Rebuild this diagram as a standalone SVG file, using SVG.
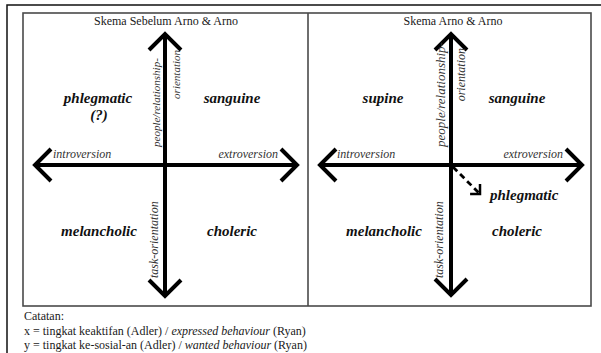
<svg xmlns="http://www.w3.org/2000/svg" width="601" height="353" viewBox="0 0 601 353" font-family="'Liberation Serif', 'DejaVu Serif', serif">
<style>
.t { font-family: "Liberation Serif", "DejaVu Serif", serif; fill: #1a1a1a; }
.title { font-size: 12px; text-anchor: middle; }
.quad { font-size: 15px; font-weight: bold; font-style: italic; text-anchor: middle; fill: #111; }
.axl { font-size: 12px; font-style: italic; fill: #333; }
.rot { font-style: italic; fill: #333; }
.note { font-size: 12px; }
.box { fill: none; stroke: #4a4a4a; stroke-width: 1.6; }
.axis { stroke: #000; stroke-width: 4; fill: none; marker-start: url(#chev); marker-end: url(#chev); }
</style>
<defs>
<marker id="chev" markerUnits="userSpaceOnUse" viewBox="-22 -22 26 44" markerWidth="26" markerHeight="44" refX="0" refY="0" orient="auto-start-reverse" overflow="visible">
<path d="M-16,-16 L0,0 L-16,16" fill="none" stroke="#000" stroke-width="4"/>
</marker>
<marker id="chevs" markerUnits="userSpaceOnUse" viewBox="-12 -12 14 24" markerWidth="14" markerHeight="24" refX="0" refY="0" orient="auto" overflow="visible">
<path d="M-7,-7 L0,0 L-7,7" fill="none" stroke="#000" stroke-width="2.5"/>
</marker>
</defs>
<rect width="601" height="353" fill="#fff"/>
<g id="frame">
<path d="M7,353 V5 H601" fill="none" stroke="#111" stroke-width="1.5"/>
<rect class="box" x="23" y="13" width="568" height="293"/>
<line class="box" x1="308" y1="13" x2="308" y2="306"/>
</g>
<g id="connectors">
<line class="axis" x1="35" y1="165" x2="297" y2="165"/>
<line class="axis" x1="165" y1="34" x2="165" y2="296"/>
<line class="axis" x1="320" y1="165" x2="582" y2="165"/>
<line class="axis" x1="451" y1="34" x2="451" y2="295"/>
<line x1="453" y1="167" x2="480" y2="194" stroke="#000" stroke-width="2.8" stroke-dasharray="6,4" marker-end="url(#chevs)"/>
</g>
<g id="title-left"><text class="t title" x="166" y="25">Skema Sebelum Arno &amp; Arno</text></g>
<g id="title-right"><text class="t title" x="453" y="25">Skema Arno &amp; Arno</text></g>
<g id="left-phlegmatic"><text class="t quad" x="98" y="103">phlegmatic</text><text class="t quad" x="99" y="120">(?)</text></g>
<g id="left-sanguine"><text class="t quad" x="232" y="103">sanguine</text></g>
<g id="left-melancholic"><text class="t quad" x="99" y="236">melancholic</text></g>
<g id="left-choleric"><text class="t quad" x="232" y="236">choleric</text></g>
<g id="right-supine"><text class="t quad" x="383" y="103">supine</text></g>
<g id="right-sanguine"><text class="t quad" x="517" y="103">sanguine</text></g>
<g id="right-melancholic"><text class="t quad" x="384" y="236">melancholic</text></g>
<g id="right-choleric"><text class="t quad" x="517" y="236">choleric</text></g>
<g id="right-phlegmatic"><text class="t quad" x="490" y="200" style="text-anchor:start">phlegmatic</text></g>
<g id="left-axis-labels">
<text class="t axl" x="53" y="158">introversion</text>
<text class="t axl" x="278" y="158" text-anchor="end">extroversion</text>
<text class="t rot" font-size="11" transform="translate(160,147) rotate(-90)">people/relationship-</text>
<text class="t rot" font-size="11" transform="translate(180,50) rotate(-90)" text-anchor="end">orientation</text>
<text class="t rot" font-size="12" transform="translate(158,278) rotate(-90)">task-orientation</text>
</g>
<g id="right-axis-labels">
<text class="t axl" x="337" y="158">introversion</text>
<text class="t axl" x="563" y="158" text-anchor="end">extroversion</text>
<text class="t rot" font-size="13" transform="translate(445,147) rotate(-90)">people/relationship-</text>
<text class="t rot" font-size="12" transform="translate(465,48) rotate(-90)" text-anchor="end">orientation</text>
<text class="t rot" font-size="12" transform="translate(443,278) rotate(-90)">task-orientation</text>
</g>
<g id="notes">
<text class="t note" x="24" y="320">Catatan:</text>
<text class="t note" x="24" y="335">x = tingkat keaktifan (Adler) / <tspan font-style="italic">expressed behaviour</tspan> (Ryan)</text>
<text class="t note" x="24" y="349">y = tingkat ke-sosial-an (Adler) / <tspan font-style="italic">wanted behaviour</tspan> (Ryan)</text>
</g>
</svg>
